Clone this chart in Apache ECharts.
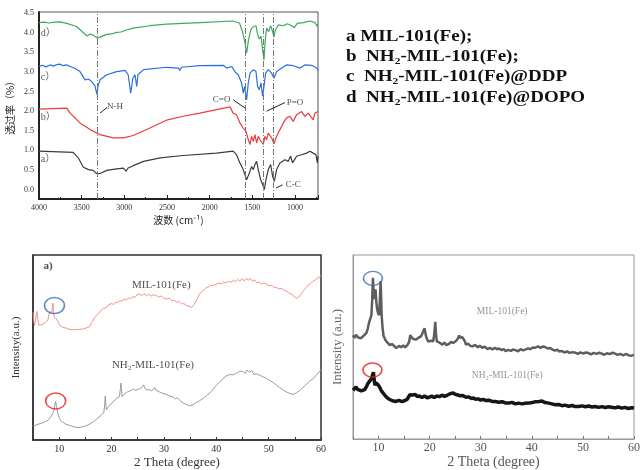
<!DOCTYPE html>
<html><head><meta charset="utf-8">
<script src="https://cdn.jsdelivr.net/npm/echarts@6/dist/echarts.min.js"></script>
<style>html,body{margin:0;padding:0;background:#fff}#c{width:643px;height:470px}</style>
</head><body><div id="c"></div>
<script>
// ---------- FTIR (wavenumber, transmittance offset) ----------
const ftirD = [[4000,4.26],[3940,4.27],[3880,4.25],[3820,4.27],[3755,4.28],[3675,4.24],[3560,4.16],[3480,4.00],[3435,3.92],[3400,3.97],[3365,3.94],[3315,3.86],[3285,3.89],[3205,3.96],[3150,3.97],[3090,4.01],[3040,4.02],[2975,4.07],[2895,4.12],[2700,4.18],[2505,4.22],[2115,4.26],[1725,4.30],[1650,4.25],[1615,4.03],[1585,3.74],[1567,3.48],[1547,3.78],[1520,4.07],[1488,4.16],[1457,4.18],[1441,3.99],[1418,3.84],[1398,3.91],[1379,3.57],[1363,3.31],[1348,3.82],[1332,4.12],[1309,4.03],[1285,4.18],[1262,4.03],[1246,3.89],[1230,4.07],[1195,4.20],[1137,4.18],[1090,4.23],[1040,4.18],[1008,4.13],[973,4.24],[903,4.26],[824,4.30],[766,4.26],[738,4.16],[730,4.22]];
const ftirC = [[4000,3.14],[3960,3.17],[3920,3.13],[3870,3.18],[3830,3.15],[3790,3.19],[3755,3.20],[3720,3.16],[3680,3.18],[3635,3.14],[3590,3.10],[3560,3.07],[3520,3.01],[3460,2.80],[3420,2.82],[3385,2.76],[3345,2.65],[3320,2.42],[3310,2.63],[3285,2.80],[3205,2.93],[3090,3.01],[2990,3.04],[2955,2.93],[2925,2.46],[2900,2.84],[2875,2.93],[2855,2.63],[2840,2.93],[2775,3.06],[2505,3.12],[2365,3.10],[2350,3.04],[2330,3.12],[2115,3.16],[1840,3.17],[1800,3.10],[1740,3.14],[1705,3.01],[1665,2.93],[1625,2.72],[1606,2.46],[1590,2.63],[1567,2.29],[1547,2.72],[1527,2.97],[1488,3.06],[1457,3.01],[1438,2.63],[1418,2.55],[1398,2.72],[1379,2.38],[1363,2.63],[1344,2.97],[1313,3.06],[1274,2.97],[1246,2.84],[1215,3.01],[1155,3.10],[1100,3.18],[1020,3.16],[940,3.10],[885,3.18],[805,3.17],[745,3.10],[730,3.04]];
const ftirB = [[4000,2.05],[3675,2.08],[3635,1.95],[3520,1.70],[3400,1.53],[3285,1.40],[3130,1.32],[3010,1.32],[2895,1.38],[2700,1.57],[2505,1.77],[2310,1.87],[2115,1.95],[1920,2.04],[1760,2.11],[1725,1.95],[1685,1.91],[1645,1.70],[1606,1.57],[1574,1.49],[1547,1.27],[1527,1.15],[1508,1.36],[1488,1.23],[1469,1.40],[1449,1.19],[1430,1.36],[1410,1.27],[1371,1.15],[1352,1.36],[1332,1.27],[1313,1.44],[1274,1.32],[1246,1.17],[1215,1.36],[1176,1.53],[1137,1.70],[1098,1.83],[1059,1.87],[1020,1.74],[981,1.91],[922,1.99],[883,1.87],[844,1.95],[786,1.78],[766,1.95],[730,1.99]];
const ftirA = [[4000,0.98],[3600,0.95],[3540,0.81],[3480,0.57],[3420,0.51],[3365,0.49],[3325,0.41],[3285,0.41],[3205,0.49],[3090,0.53],[3010,0.55],[2980,0.47],[2955,0.55],[2895,0.61],[2775,0.72],[2580,0.81],[2310,0.87],[1920,0.93],[1725,0.98],[1685,0.89],[1645,0.68],[1606,0.51],[1567,0.25],[1535,0.42],[1508,0.59],[1488,0.51],[1469,0.64],[1449,0.72],[1430,0.51],[1402,0.25],[1379,0.13],[1359,0.00],[1340,0.25],[1313,0.51],[1285,0.64],[1262,0.34],[1242,0.21],[1215,0.51],[1176,0.68],[1117,0.76],[1078,0.72],[1051,0.85],[1028,0.68],[981,0.85],[922,0.89],[864,0.93],[824,0.98],[786,0.93],[754,0.89],[738,0.68],[730,0.85]];
const ftirMarkers = [3320, 1586, 1375, 1254];
const ftirCurveLabels = [['a）',3985,0.78],['b）',3985,1.84],['c）',3985,2.86],['d）',3985,3.99]];
const ftirNotes = [['N-H',3110,2.11],['C=O',1860,2.29],['P=O',1000,2.21],['C-C',1020,0.13]];
const ftirLeaders = [[[3285,1.95],[3200,2.10]],[[1723,2.29],[1586,2.08]],[[1332,2.00],[1117,2.22]],[[1223,0.04],[1145,0.12]]];

// ---------- XRD left ----------
const xrdL_MIL = [[5.0,69],[5.15,64],[5.3,62],[5.5,63],[5.75,69.5],[5.95,65],[6.15,62],[6.5,62.3],[6.9,62.5],[7.4,63.5],[7.85,65],[8.15,69],[8.4,68],[8.6,69.5],[8.8,74],[9.0,67],[9.3,66.5],[9.6,64.8],[10.1,62.1],[10.6,61],[11.4,60.4],[12.0,59.8],[12.6,59.5],[13.5,59.7],[14.6,60],[15.2,60.6],[15.8,61.3],[16.2,63.5],[16.5,64.8],[16.8,66.3],[17.1,67.4],[17.5,68.2],[17.8,69.6],[18.1,69.9],[18.4,71],[18.7,71.8],[19.0,71.5],[19.3,72.9],[19.6,72.7],[20.0,73.8],[20.4,73.2],[20.8,74.5],[21.2,74.2],[21.6,75.5],[22.0,75],[22.4,76.2],[22.8,75.6],[23.2,76.8],[23.6,76.4],[24.1,77.6],[24.5,77.1],[24.9,78.6],[25.4,78.9],[25.8,78.0],[26.2,79.2],[26.7,78.0],[27.1,78.8],[27.6,77.8],[28.0,78.6],[28.6,78.0],[29.0,77.2],[29.5,77.9],[30.0,76.6],[30.5,76.2],[31.0,76.6],[31.5,75.2],[32.0,75.6],[32.4,74.5],[32.9,74.8],[33.4,73.5],[33.8,73.8],[34.3,72.7],[34.8,72.2],[35.3,71.8],[35.8,73.2],[36.2,75.4],[36.5,77.2],[36.8,78.9],[37.2,80.2],[37.6,81.0],[38.1,82.4],[38.6,82.9],[39.0,83.8],[39.5,83.5],[40.0,84.2],[40.5,84.8],[41.0,84.4],[41.4,85.3],[41.9,85.0],[42.4,85.8],[42.8,85.2],[43.3,86.3],[43.7,85.5],[44.1,86.8],[44.5,85.9],[44.9,87.2],[45.3,86.0],[45.7,87.4],[46.1,86.4],[46.5,87.3],[46.9,85.8],[47.3,86.6],[47.7,85.0],[48.2,85.4],[48.6,84.3],[49.1,84.9],[49.6,84.2],[50.1,83.3],[50.6,83.6],[51.0,82.6],[51.5,82.4],[52.0,81.7],[52.5,81.9],[53.0,80.8],[53.4,80.6],[53.8,79.6],[54.3,78.9],[54.7,78.0],[55.0,77.2],[55.3,76.6],[55.6,77.3],[56.0,78.0],[56.4,79.6],[56.8,81.2],[57.2,82.4],[57.6,83.8],[58.0,84.5],[58.5,85.9],[58.9,86.4],[59.3,87.6],[59.7,87.9],[60.0,88.9]];
const xrdL_NH2 = [[5.0,7.6],[5.5,8.0],[5.96,8.5],[6.4,8.9],[6.9,9.3],[7.4,10.0],[7.9,10.7],[8.2,11.8],[8.5,12.9],[8.75,14.2],[8.95,15.5],[9.15,18.5],[9.33,20.8],[9.5,17.5],[9.6,16.4],[9.8,13.5],[10.0,12.0],[10.4,10.2],[10.7,9.3],[11.3,8.5],[12.0,7.9],[12.8,7.2],[13.6,6.7],[14.1,7.0],[14.6,7.2],[15.2,7.8],[15.8,8.5],[16.5,9.8],[17.1,11.1],[17.6,12.4],[18.1,13.7],[18.5,14.6],[18.7,19.0],[18.8,23.8],[18.9,20.0],[19.0,16.4],[19.3,17.0],[19.6,18.6],[20.0,19.9],[20.4,20.8],[20.9,22.5],[21.2,22.9],[21.5,23.4],[21.7,28.0],[21.8,30.8],[21.9,27.0],[22.0,23.4],[22.3,24.5],[22.5,25.2],[22.9,25.8],[23.3,26.3],[23.8,26.9],[24.2,27.4],[24.6,26.9],[25.1,27.3],[25.5,28.0],[25.9,28.7],[26.1,29.8],[26.4,28.0],[26.7,26.9],[27.1,27.4],[27.6,26.6],[28.0,27.4],[28.2,28.5],[28.5,27.0],[28.7,26.1],[29.2,25.9],[29.8,25.2],[30.4,24.7],[31.1,23.8],[31.7,23.3],[32.2,22.2],[32.6,22.9],[33.1,21.3],[33.7,19.9],[34.3,19.2],[34.9,18.5],[35.5,19.0],[36.2,20.2],[36.8,21.2],[37.5,22.5],[38.1,23.9],[38.8,25.5],[39.4,27.4],[40.0,29.6],[40.6,31.2],[41.3,33.1],[41.9,34.6],[42.6,35.4],[43.2,35.2],[43.9,36.1],[44.5,37.2],[45.1,37.1],[45.5,35.9],[45.8,37.8],[46.4,36.6],[46.8,37.6],[47.2,35.4],[47.7,35.7],[48.3,35.0],[49.0,34.0],[49.6,33.3],[50.2,32.2],[50.9,31.0],[51.5,29.6],[52.1,28.4],[52.8,26.9],[53.4,26.0],[54.0,25.2],[54.7,24.6],[55.3,25.5],[56.0,26.9],[56.6,28.6],[57.2,30.1],[57.8,31.7],[58.5,33.1],[59.2,35.4],[60.0,37.9]];
const xrdL_notes = [['a)',7.9,94.2,true],['MIL-101(Fe)',29.5,83.6,false],['NH₂-MIL-101(Fe)',27.9,40.7,false]];
const xrdL_circles = [[9.1,72.7,'#3b6db3'],[9.33,21.1,'#e02020']];

// ---------- XRD right ----------
const xrdR_MIL = [[5.0,56.3],[5.3,55.0],[5.6,56.6],[6.0,55.2],[6.3,56.2],[6.6,54.8],[6.9,55.8],[7.2,56.5],[7.6,57.5],[7.9,60.0],[8.1,62.8],[8.4,65.5],[8.6,67.3],[8.75,75],[8.9,87.6],[9.0,82],[9.1,76.1],[9.25,78],[9.4,81.4],[9.55,75],[9.7,70.8],[9.9,68.5],[10.1,67.3],[10.25,75],[10.4,85.8],[10.5,78],[10.6,67.3],[10.8,60],[11.0,55.8],[11.4,53.5],[11.8,52.2],[12.2,51.0],[12.6,51.6],[13.1,50.4],[13.5,49.4],[14.0,50.6],[14.4,49.9],[14.8,50.8],[15.2,49.8],[15.7,51.3],[16.0,53.0],[16.2,56.4],[16.4,55.8],[16.7,54.5],[17.0,55.2],[17.3,54.0],[17.7,54.8],[18.0,55.2],[18.3,55.8],[18.6,57.5],[19.0,60.2],[19.2,57.0],[19.4,54.9],[19.7,53.0],[19.9,52.2],[20.3,53.4],[20.7,53.1],[20.9,57.0],[21.1,63.7],[21.25,57],[21.4,53.1],[21.8,52.6],[22.1,51.7],[22.5,51.3],[22.9,52.4],[23.3,51.0],[23.8,51.7],[24.2,52.8],[24.6,52.2],[25.1,53.1],[25.5,54.5],[25.8,56.3],[26.0,55.0],[26.2,54.0],[26.4,55.4],[26.6,55.8],[26.9,53.0],[27.1,51.3],[27.5,51.8],[28.0,50.6],[28.4,50.4],[28.9,51.1],[29.4,49.9],[29.8,50.7],[30.3,49.6],[30.8,50.2],[31.3,48.9],[31.8,49.5],[32.3,48.7],[32.8,49.6],[33.2,48.8],[33.6,49.2],[34.1,48.3],[34.5,48.9],[34.9,47.8],[35.4,48.4],[35.9,47.9],[36.3,48.6],[36.8,48.3],[37.3,47.7],[37.8,48.8],[38.3,48.2],[38.8,48.7],[39.3,49.3],[39.7,48.8],[40.2,49.7],[40.7,49.6],[41.2,50.4],[41.7,49.5],[42.2,50.3],[42.7,49.9],[43.1,49.2],[43.6,49.5],[44.0,48.7],[44.5,48.0],[45.0,48.5],[45.4,47.6],[45.9,47.8],[46.4,47.0],[46.9,47.6],[47.4,46.8],[48.0,47.2],[48.5,46.9],[49.0,46.3],[49.5,47.1],[50.0,46.5],[50.6,47.0],[51.1,46.7],[51.6,46.0],[52.1,46.8],[52.6,46.3],[53.2,46.9],[53.7,46.4],[54.2,45.8],[54.7,46.6],[55.3,46.1],[55.8,46.9],[56.3,46.4],[56.8,45.7],[57.3,46.3],[57.9,45.5],[58.4,46.2],[58.9,45.6],[59.4,45.2],[60.0,45.7]];
const xrdR_NH2 = [[5.0,26.5],[5.3,27.5],[5.6,28.3],[5.9,27.0],[6.2,26.8],[6.6,26.2],[6.9,27.2],[7.3,26.9],[7.6,28.3],[7.9,30.1],[8.2,31.0],[8.6,32.7],[8.8,34.5],[9.0,36.3],[9.15,32],[9.3,29.2],[9.5,30.5],[9.7,31.0],[9.9,29.5],[10.2,28.3],[10.6,26.0],[11.2,23.9],[11.6,22.6],[12.1,21.6],[12.7,20.8],[13.4,20.4],[14.0,21.0],[14.6,20.3],[15.1,20.9],[15.6,21.5],[15.9,22.1],[16.1,24.0],[16.2,24.8],[16.4,24.0],[16.7,23.9],[17.2,24.2],[17.6,23.0],[18.0,23.4],[18.5,22.6],[19.0,23.4],[19.5,22.4],[19.9,22.7],[20.4,23.3],[20.9,22.5],[21.4,23.4],[21.9,23.0],[22.4,23.8],[22.9,23.2],[23.5,23.9],[24.0,24.6],[24.6,25.1],[25.0,24.3],[25.5,23.9],[26.0,23.5],[26.5,23.6],[27.1,22.7],[27.6,22.9],[28.2,22.0],[28.6,22.3],[29.0,21.6],[29.5,21.8],[30.0,21.1],[30.5,21.5],[31.0,20.9],[31.6,21.1],[32.2,20.4],[32.9,20.4],[33.5,20.0],[34.2,20.3],[34.8,19.6],[35.5,19.5],[36.1,19.9],[36.8,19.1],[37.4,19.5],[38.1,19.1],[38.7,19.4],[39.4,19.5],[40.1,19.8],[40.7,20.3],[41.4,20.4],[42.0,20.6],[42.6,19.8],[43.3,19.5],[43.9,19.1],[44.6,18.6],[45.2,18.8],[45.9,18.1],[46.5,18.4],[47.2,17.8],[47.9,18.2],[48.5,17.6],[49.2,17.7],[49.8,18.0],[50.5,17.5],[51.1,17.9],[51.8,17.4],[52.4,17.7],[53.1,17.2],[53.7,17.6],[54.4,17.1],[55.0,17.5],[55.6,17.3],[56.3,16.9],[56.9,17.4],[57.6,16.8],[58.2,17.2],[58.9,16.6],[59.5,17.0],[60.0,16.8]];
const xrdR_notes = [['MIL-101(Fe)',34.2,69.4],['NH₂-MIL-101(Fe)',35.2,34.5]];
const xrdR_circles = [[8.9,87.3,'#3b6db3'],[8.8,37.5,'#e02020']];

const legendLines = ['a MIL-101(Fe);','b  NH₂-MIL-101(Fe);','c  NH₂-MIL-101(Fe)@DDP','d  NH₂-MIL-101(Fe)@DOPO'];

// ---------- build ----------
const serif = "'Liberation Serif','Times New Roman','Noto Sans CJK SC',serif";
const cjk = "'Noto Sans CJK SC','Liberation Serif',sans-serif";
const chart = echarts.init(document.getElementById('c'), null, {renderer:'canvas'});

function line(data, idx, color, width, extra) {
  return Object.assign({type:'line', xAxisIndex:idx, yAxisIndex:idx, data, symbol:'none', silent:true,
    lineStyle:{color, width}, animation:false}, extra||{});
}
function notes(idx, items, style, pos) {
  return {type:'scatter', xAxisIndex:idx, yAxisIndex:idx, symbolSize:1, silent:true, animation:false, z:5,
    itemStyle:{color:'transparent'},
    data: items.map(n=>({value:[n[1],n[2]], name:n[0], label: n[3] ? {fontWeight:'bold'} : undefined})),
    label:Object.assign({show:true, formatter:'{b}', position:pos||'inside'}, style)};
}
function circles(idx, items, size) {
  return {type:'scatter', xAxisIndex:idx, yAxisIndex:idx, symbol:'circle', symbolSize:size, silent:true, animation:false, z:6,
    data: items.map(c=>({value:[c[0],c[1]], itemStyle:{color:'transparent', borderColor:c[2], borderWidth:1.5}}))};
}
const halfStep = v => Math.abs(v*2 - Math.round(v*2)) < 1e-6;

const series = [
  line(ftirA, 0, '#3c3c3c', 1.2, {markLine:{silent:true, symbol:['none','none'], label:{show:false}, animation:false,
      lineStyle:{color:'#777', width:1, type:[6,2,1,2]}, data: ftirMarkers.map(v=>({xAxis:v}))}}),
  line(ftirB, 0, '#ee3b3b', 1.2),
  line(ftirC, 0, '#2a6fe0', 1.2),
  line(ftirD, 0, '#3aaa5c', 1.2),
  notes(0, ftirCurveLabels, {fontFamily:serif, fontSize:10, color:'#333', distance:0}, 'right'),
  notes(0, ftirNotes, {fontFamily:serif, fontSize:9, color:'#222'}),
  ...ftirLeaders.map(l => line(l, 0, '#222', 1, {z:5})),
  line(xrdL_MIL, 1, '#f39090', 1),
  line(xrdL_NH2, 1, '#9a9a9a', 1),
  notes(1, xrdL_notes, {fontFamily:serif, fontSize:11, color:'#222'}),
  circles(1, xrdL_circles, [20,16]),
  line(xrdR_MIL, 2, '#5e5e5e', 2.5),
  line(xrdR_NH2, 2, '#161616', 3.5),
  notes(2, xrdR_notes, {fontFamily:serif, fontSize:9.5, color:'#7a7a7a'}),
  circles(2, xrdR_circles, [19,14])
];

const option = {
  backgroundColor:'#fff',
  animation:false,
  grid:[
    {left:39, top:12, width:279, height:187, show:true, borderColor:'#555', borderWidth:1},
    {left:33, top:255, width:288, height:189, show:true, borderColor:'#333', borderWidth:1.5},
    {left:353, top:255, width:283, height:188, show:true, borderColor:'#999', borderWidth:1}
  ],
  xAxis:[
    {gridIndex:0, type:'value', inverse:true, min:730, max:4000, splitNumber:7,
     axisLine:{onZero:false, lineStyle:{color:'#222', width:2}}, splitLine:{show:false},
     axisTick:{inside:true, length:4, lineStyle:{color:'#222'}},
     minorTick:{show:true, splitNumber:2, length:2, lineStyle:{color:'#222'}},
     axisLabel:{formatter:v => (v % 500 === 0 ? String(v) : ''), fontFamily:serif, fontSize:8, color:'#333', margin:5},
     name:'波数 (cm⁻¹)', nameLocation:'middle', nameGap:16,
     nameTextStyle:{fontFamily:cjk, fontSize:10, color:'#222'}},
    {gridIndex:1, type:'value', min:5, max:60, interval:5,
     axisLine:{onZero:false, lineStyle:{color:'#333', width:1.5}}, splitLine:{show:false},
     axisTick:{inside:true, length:3, lineStyle:{color:'#333'}},
     axisLabel:{formatter:v => (v % 10 === 0 ? String(v) : ''), fontFamily:serif, fontSize:10, color:'#333', margin:4},
     name:'2 Theta (degree)', nameLocation:'middle', nameGap:16,
     nameTextStyle:{fontFamily:serif, fontSize:13, color:'#333'}},
    {gridIndex:2, type:'value', min:5, max:60, interval:5,
     axisLine:{onZero:false, lineStyle:{color:'#999', width:1}}, splitLine:{show:false},
     axisTick:{inside:true, length:3, lineStyle:{color:'#777'}},
     axisLabel:{formatter:v => (v % 10 === 0 ? String(v) : ''), fontFamily:serif, fontSize:12, color:'#555', margin:3},
     name:'2 Theta (degree)', nameLocation:'middle', nameGap:16,
     nameTextStyle:{fontFamily:serif, fontSize:14, color:'#555'}}
  ],
  yAxis:[
    {gridIndex:0, type:'value', min:-0.24, max:4.53, splitNumber:10,
     axisLine:{onZero:false, lineStyle:{color:'#222', width:2}}, splitLine:{show:false},
     axisTick:{show:false},
     axisLabel:{formatter:v => (halfStep(v) ? v.toFixed(1) : ''), fontFamily:serif, fontSize:8, color:'#333', margin:5},
     name:'透过率（%）', nameLocation:'middle', nameGap:24,
     nameTextStyle:{fontFamily:cjk, fontSize:10, color:'#222'}},
    {gridIndex:1, type:'value', min:0, max:100,
     axisLine:{onZero:false, lineStyle:{color:'#333', width:1.5}}, splitLine:{show:false},
     axisTick:{show:false}, axisLabel:{show:false},
     name:'Intensity(a.u.)', nameLocation:'middle', nameGap:11,
     nameTextStyle:{fontFamily:serif, fontSize:11, color:'#333'}},
    {gridIndex:2, type:'value', min:0, max:100,
     axisLine:{onZero:false, lineStyle:{color:'#999', width:1}}, splitLine:{show:false},
     axisTick:{show:false}, axisLabel:{show:false},
     name:'Intensity (a.u.)', nameLocation:'middle', nameGap:9,
     nameTextStyle:{fontFamily:serif, fontSize:13, color:'#666'}}
  ],
  graphic: legendLines.map((t,i) => ({type:'text', left:346, top:28 + i*20.3, scaleX:1.12, silent:true,
    style:{text:t, fontFamily:serif, fontSize:17, fontWeight:'bold', fill:'#111'}})),
  series
};
chart.setOption(option);
</script></body></html>
